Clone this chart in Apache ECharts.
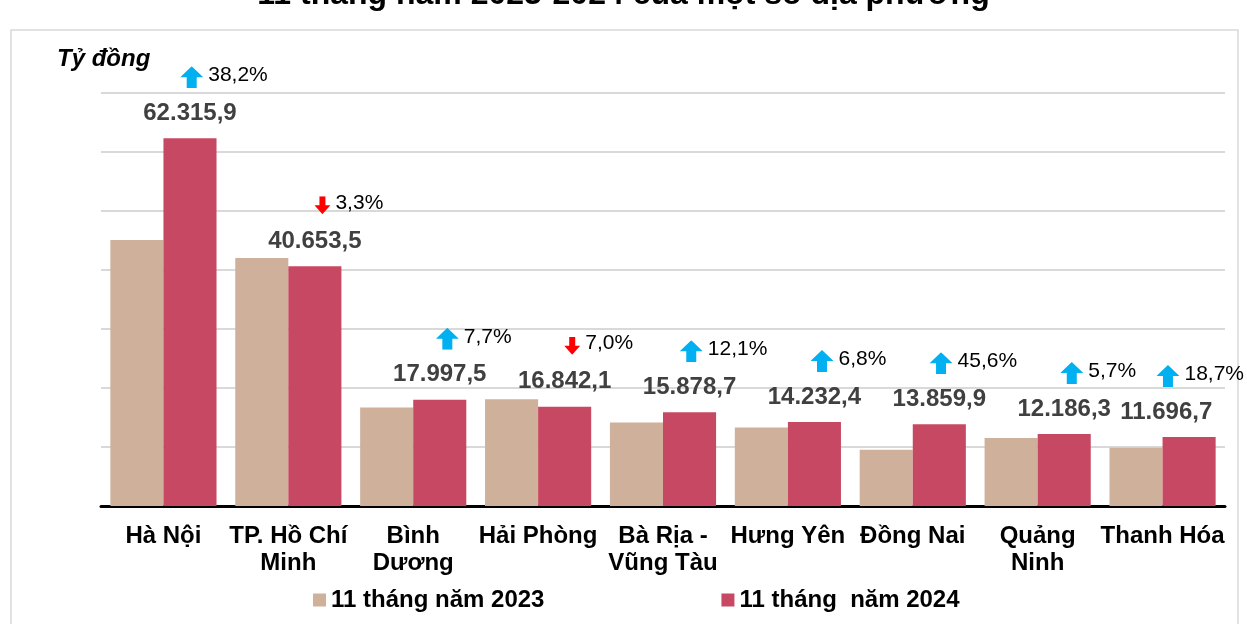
<!DOCTYPE html>
<html>
<head>
<meta charset="utf-8">
<script src="https://cdn.jsdelivr.net/npm/echarts@6/dist/echarts.min.js"></script>
<style>
  html, body { margin: 0; padding: 0; background: #fff; }
  #chart { width: 1247px; height: 624px; }
</style>
</head>
<body>
<div id="chart"></div>
<script>
// data
const provinces = ["Hà Nội", "TP. Hồ Chí\nMinh", "Bình\nDương", "Hải Phòng", "Bà Rịa -\nVũng Tàu", "Hưng Yên", "Đồng Nai", "Quảng\nNinh", "Thanh Hóa"];
const y2023 = [45091, 42041, 16711, 18110, 14165, 13326, 9519, 11529, 9854];
const y2024 = [62315.9, 40653.5, 17997.5, 16842.1, 15878.7, 14232.4, 13859.9, 12186.3, 11696.7];
const growth = ["38,2%", "3,3%", "7,7%", "7,0%", "12,1%", "6,8%", "45,6%", "5,7%", "18,7%"];
const trend = ["up", "down", "up", "down", "up", "up", "up", "up", "up"];

// mũi tên tăng / giảm
const svg = (s) => "data:image/svg+xml;charset=utf-8," + encodeURIComponent(s);
const upArrow = svg('<svg xmlns="http://www.w3.org/2000/svg" width="23" height="22" viewBox="0 0 23 22"><path d="M11.5 0 L23 11 L16.5 11 L16.5 22 L6.5 22 L6.5 11 L0 11 Z" fill="#00B0F0"/></svg>');
const downArrow = svg('<svg xmlns="http://www.w3.org/2000/svg" width="16" height="18" viewBox="0 0 16 18"><path d="M5 0 L11 0 L11 9 L16 9 L8 18 L0 9 L5 9 Z" fill="#FF0000"/></svg>');

// 62315.9 -> "62.315,9"
const fmt = (v) => {
  const [i, d] = v.toFixed(1).split(".");
  return i.replace(/\B(?=(\d{3})+(?!\d))/g, ".") + "," + d;
};

const font = "Arial, 'Liberation Sans', sans-serif";
const myChart = echarts.init(document.getElementById("chart"));

const options = {
  animation: false,
  textStyle: { fontFamily: font },
  title: [
    {
      text: "11 tháng năm 2023-2024 của một số địa phương",
      left: "center",
      top: -26,
      textStyle: { fontSize: 32, fontWeight: "bold", color: "#000", fontFamily: font },
    },
    {
      text: "Tỷ đồng",
      left: 52,
      top: 42,
      textStyle: { fontSize: 24, fontWeight: "bold", fontStyle: "italic", color: "#000", fontFamily: font },
    },
  ],
  graphic: [
    {
      type: "rect",
      shape: { x: 11, y: 30, width: 1227, height: 610 },
      style: { fill: "none", stroke: "#D9D9D9", lineWidth: 1.5 },
      silent: true,
    },
  ],
  legend: {
    left: 308,
    top: 583,
    icon: "rect",
    itemWidth: 13,
    itemHeight: 13,
    itemGap: 177,
    textStyle: { fontSize: 24, fontWeight: "bold", color: "#000", fontFamily: font },
  },
  grid: { left: 101, right: 22, top: 93, bottom: 118 },
  xAxis: {
    type: "category",
    data: provinces,
    axisTick: { show: false },
    axisLine: { lineStyle: { color: "#000", width: 3 } },
    axisLabel: {
      interval: 0,
      margin: 17,
      fontSize: 24,
      fontWeight: "bold",
      color: "#000",
      lineHeight: 27,
      fontFamily: font,
    },
  },
  yAxis: {
    type: "value",
    min: 0,
    max: 70000,
    interval: 10000,
    axisLabel: { show: false },
    axisLine: { show: false },
    axisTick: { show: false },
    splitLine: { lineStyle: { color: "#D9D9D9", width: 2 } },
  },
  series: [
    {
      name: "11 tháng năm 2023",
      type: "bar",
      data: y2023,
      barGap: "0%",
      barCategoryGap: "15%",
      itemStyle: { color: "#CFB09B" },
    },
    {
      name: "11 tháng  năm 2024",
      type: "bar",
      data: y2024,
      barGap: "0%",
      barCategoryGap: "15%",
      itemStyle: { color: "#C74862" },
      label: {
        show: true,
        position: "top",
        distance: 11,
        formatter: (p) =>
          "{sp|}{" + trend[p.dataIndex] + "|}{pct|" + growth[p.dataIndex] + "}\n{val|" + fmt(p.value) + "}",
        rich: {
          sp: { width: 68 },
          up: { width: 23, height: 22, backgroundColor: { image: upArrow } },
          down: { width: 16, height: 18, backgroundColor: { image: downArrow } },
          pct: { fontSize: 21, color: "#000", padding: [0, 0, 4, 5], lineHeight: 44, fontFamily: font },
          val: { fontSize: 24, fontWeight: "bold", color: "#404040", lineHeight: 28, fontFamily: font },
        },
      },
      // giữ nhãn trong khung bên phải
      labelLayout: (p) => {
        const r = p.labelRect;
        const limit = 1244;
        if (r.x + r.width > limit) return { dx: limit - (r.x + r.width) };
        return {};
      },
    },
  ],
};

myChart.setOption(options);
</script>
</body>
</html>
